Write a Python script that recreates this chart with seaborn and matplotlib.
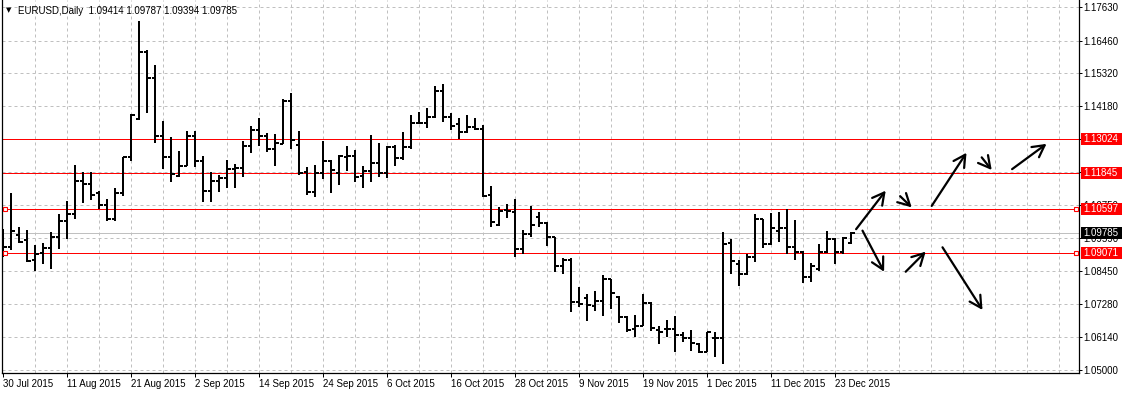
import numpy as np
import pandas as pd
import matplotlib
matplotlib.use("Agg")
import matplotlib.pyplot as plt
import matplotlib.transforms as mtransforms
from matplotlib.patches import Rectangle
import seaborn as sns

# ---------------- data ----------------
symbol_title = "EURUSD,Daily"
opens = [1.0965, 1.0929, 1.0970, 1.0952, 1.0883, 1.0907, 1.0925, 1.0963, 1.1019, 1.1043,
         1.1158, 1.1147, 1.1116, 1.1074, 1.1026, 1.1116, 1.1241, 1.1374, 1.1607, 1.1516,
         1.1314, 1.1241, 1.1175, 1.1210, 1.1314, 1.1227, 1.1123, 1.1158, 1.1168, 1.1200,
         1.1203, 1.1280, 1.1335, 1.1314, 1.1269, 1.1287, 1.1436, 1.1283, 1.1189, 1.1119,
         1.1186, 1.1227, 1.1186, 1.1241, 1.1245, 1.1175, 1.1193, 1.1220, 1.1186, 1.1277,
         1.1238, 1.1276, 1.1360, 1.1360, 1.1380, 1.1471, 1.1380, 1.1356, 1.1328, 1.1346,
         1.1339, 1.1109, 1.1005, 1.1057, 1.1050, 1.0921, 1.0973, 1.1033, 1.1012, 1.0963,
         1.0862, 1.0883, 1.0737, 1.0751, 1.0723, 1.0740, 1.0817, 1.0754, 1.0684, 1.0643,
         1.0653, 1.0733, 1.0639, 1.0643, 1.0643, 1.0622, 1.0611, 1.0591, 1.0563, 1.0611,
         1.0611, 1.0942, 1.0869, 1.0834, 1.0893, 1.1026, 1.0939, 1.0984, 1.0994, 1.0928,
         1.0911, 1.0824, 1.0852, 1.0911, 1.0956, 1.0911, 1.09414]
highs = [1.0991, 1.1117, 1.0998, 1.0987, 1.0935, 1.0942, 1.0980, 1.1043, 1.1088, 1.1213,
         1.1189, 1.1189, 1.1123, 1.1095, 1.1133, 1.1241, 1.1391, 1.1715, 1.1614, 1.1561,
         1.1367, 1.1311, 1.1262, 1.1332, 1.1332, 1.1245, 1.1189, 1.1179, 1.1231, 1.1217,
         1.1297, 1.1349, 1.1377, 1.1325, 1.1321, 1.1443, 1.1464, 1.1332, 1.1206, 1.1213,
         1.1297, 1.1231, 1.1248, 1.1280, 1.1266, 1.1210, 1.1318, 1.1290, 1.1280, 1.1283,
         1.1328, 1.1387, 1.1398, 1.1412, 1.1488, 1.1495, 1.1394, 1.1377, 1.1387, 1.1377,
         1.1353, 1.1140, 1.1067, 1.1078, 1.1095, 1.0987, 1.1071, 1.1050, 1.1015, 1.0963,
         1.0890, 1.0890, 1.0789, 1.0765, 1.0775, 1.0831, 1.0817, 1.0758, 1.0688, 1.0691,
         1.0765, 1.0737, 1.0653, 1.0674, 1.0688, 1.0632, 1.0639, 1.0594, 1.0632, 1.0632,
         1.0980, 1.0956, 1.0883, 1.0904, 1.1043, 1.1026, 1.1046, 1.1050, 1.1060, 1.1022,
         1.0914, 1.0872, 1.0939, 1.0984, 1.0959, 1.0963, 1.09787]
lows = [1.0893, 1.0918, 1.0942, 1.0876, 1.0845, 1.0869, 1.0852, 1.0921, 1.0956, 1.1026,
        1.1081, 1.1092, 1.1060, 1.1019, 1.1019, 1.1106, 1.1227, 1.1370, 1.1394, 1.1290,
        1.1200, 1.1154, 1.1172, 1.1210, 1.1206, 1.1085, 1.1085, 1.1119, 1.1133, 1.1133,
        1.1172, 1.1255, 1.1280, 1.1259, 1.1210, 1.1287, 1.1269, 1.1179, 1.1109, 1.1102,
        1.1165, 1.1116, 1.1144, 1.1193, 1.1154, 1.1133, 1.1154, 1.1172, 1.1168, 1.1210,
        1.1231, 1.1269, 1.1356, 1.1342, 1.1377, 1.1363, 1.1335, 1.1304, 1.1325, 1.1335,
        1.1102, 1.0998, 1.1001, 1.1029, 1.0893, 1.0904, 1.0963, 1.0998, 1.0932, 1.0841,
        1.0834, 1.0702, 1.0719, 1.0671, 1.0705, 1.0688, 1.0712, 1.0664, 1.0632, 1.0615,
        1.0653, 1.0636, 1.0591, 1.0615, 1.0563, 1.0597, 1.0566, 1.0559, 1.0563, 1.0545,
        1.0521, 1.0834, 1.0792, 1.0831, 1.0876, 1.0925, 1.0935, 1.0945, 1.0904, 1.0883,
        1.0803, 1.0806, 1.0845, 1.0907, 1.0869, 1.0904, 1.09394]
closes = [1.0929, 1.0984, 1.0945, 1.0879, 1.0904, 1.0925, 1.0963, 1.1019, 1.1043, 1.1158,
          1.1147, 1.1109, 1.1074, 1.1026, 1.1116, 1.1241, 1.1387, 1.1607, 1.1516, 1.1314,
          1.1241, 1.1182, 1.1210, 1.1314, 1.1227, 1.1123, 1.1158, 1.1168, 1.1200, 1.1203,
          1.1280, 1.1335, 1.1314, 1.1269, 1.1290, 1.1436, 1.1300, 1.1186, 1.1119, 1.1186,
          1.1227, 1.1196, 1.1245, 1.1245, 1.1172, 1.1193, 1.1220, 1.1186, 1.1277, 1.1238,
          1.1276, 1.1360, 1.1360, 1.1380, 1.1471, 1.1380, 1.1349, 1.1328, 1.1346, 1.1339,
          1.1106, 1.1015, 1.1053, 1.1053, 1.0921, 1.0973, 1.1005, 1.1012, 1.0963, 1.0862,
          1.0883, 1.0737, 1.0730, 1.0726, 1.0740, 1.0817, 1.0768, 1.0684, 1.0639, 1.0653,
          1.0733, 1.0646, 1.0632, 1.0643, 1.0622, 1.0611, 1.0594, 1.0563, 1.0632, 1.0611,
          1.0939, 1.0879, 1.0834, 1.0893, 1.1026, 1.0939, 1.0994, 1.0994, 1.0928, 1.0911,
          1.0824, 1.0862, 1.0911, 1.0956, 1.0911, 1.0959, 1.09785]

date_labels = ["30 Jul 2015", "11 Aug 2015", "21 Aug 2015", "2 Sep 2015", "14 Sep 2015",
               "24 Sep 2015", "6 Oct 2015", "16 Oct 2015", "28 Oct 2015", "9 Nov 2015",
               "19 Nov 2015", "1 Dec 2015", "11 Dec 2015", "23 Dec 2015"]
label_every = 8          # bars between date labels
grid_every = 4           # bars between vertical grid lines

price_ticks = [1.05000, 1.06140, 1.07280, 1.08450, 1.09590, 1.10750,
               1.11900, 1.13040, 1.14180, 1.15320, 1.16460, 1.17630]

red_levels = [1.13024, 1.11845, 1.10597, 1.09071]
marked_levels = [1.10597, 1.09071]
bid_level = 1.09785

# hand-drawn arrows (bar index, price)
arrow_x0 = [106.6, 112.1, 116.05, 122.3, 126.1, 107.4, 112.8, 117.4]
arrow_y0 = [1.0990, 1.1105, 1.1071, 1.1240, 1.1199, 1.0985, 1.0842, 1.0927]
arrow_x1 = [110.3, 113.55, 120.4, 123.55, 130.4, 110.1, 115.3, 122.4]
arrow_y1 = [1.1124, 1.1066, 1.1256, 1.1196, 1.1287, 1.0842, 1.0912, 1.0709]

# ---------------- figure ----------------
sns.set_theme(style="white")
plt.rcParams["font.family"] = ["Liberation Sans", "DejaVu Sans"]

W, H = 1122, 394
fig = plt.figure(figsize=(W / 100, H / 100), dpi=100)
fig.patch.set_facecolor("white")
ax_left, ax_right, ax_bottom_px = 2, 1079, 373
ax = fig.add_axes([ax_left / W, (H - ax_bottom_px) / H,
                   (ax_right - ax_left) / W, ax_bottom_px / H])
ax.set_facecolor("white")

n = len(opens)
tick = 0.4
rows = []
for i in range(n):
    rows += [(i, lows[i], 3 * i), (i, highs[i], 3 * i)]
    rows += [(i - tick, opens[i], 3 * i + 1), (i, opens[i], 3 * i + 1)]
    rows += [(i, closes[i], 3 * i + 2), (i + tick, closes[i], 3 * i + 2)]
seg = pd.DataFrame(rows, columns=["bar", "price", "seg"])

sns.lineplot(data=seg, x="bar", y="price", units="seg", estimator=None, sort=False,
             color="black", lw=1.44, solid_capstyle="butt", legend=False, ax=ax, zorder=4)

# limits (8 px per bar, 0.000348 per px)
px_per_bar = 8.0
first_bar_px = 3.3
ax.set_xlim((ax_left - first_bar_px) / px_per_bar, (ax_right - first_bar_px) / px_per_bar)
ax.set_ylim(1.04896, 1.17876)

# grid
for v in price_ticks:
    ax.axhline(v, color="#c0c0c0", lw=0.72, ls=(0, (3, 3)), zorder=1)
for b in range(grid_every, int(ax.get_xlim()[1]) + 1, grid_every):
    ax.axvline(b, color="#c0c0c0", lw=0.72, ls=(0, (3, 3)), zorder=1)

# levels
for v in red_levels:
    ax.axhline(v, color="#ff0000", lw=0.72, zorder=2)
ax.axhline(bid_level, color="#c0c0c0", lw=0.72, zorder=2)
trans_ax = mtransforms.blended_transform_factory(ax.transAxes, ax.transData)
for v in marked_levels:
    for xa in [(5 - ax_left) / (ax_right - ax_left), (1076 - ax_left) / (ax_right - ax_left)]:
        ax.plot([xa], [v], marker="s", ms=3.0, mfc="white", mec="#ff0000", mew=0.8,
                transform=trans_ax, clip_on=False, zorder=6)

# arrows
for x0, y0, x1, y1 in zip(arrow_x0, arrow_y0, arrow_x1, arrow_y1):
    ax.annotate("", xy=(x1, y1), xytext=(x0, y0),
                arrowprops=dict(arrowstyle="->,head_length=0.7,head_width=0.38",
                                lw=1.6, color="black", shrinkA=0, shrinkB=0),
                zorder=5)

# axes / ticks
ax.set_xlabel("")
ax.set_ylabel("")
ax.set_xticks(list(range(0, label_every * len(date_labels), label_every)))
ax.set_xticklabels(date_labels)
for lab in ax.get_xticklabels():
    lab.set_ha("left")
ax.tick_params(axis="x", direction="out", length=3, width=0.72, pad=1.5,
               labelsize=7, colors="black", bottom=True)
ax.yaxis.tick_right()
ax.set_yticks(price_ticks)
ax.set_yticklabels([f"{v:.5f}" for v in price_ticks])
ax.tick_params(axis="y", direction="out", length=2.2, width=0.72, pad=1.0,
               labelsize=7, colors="black", right=True, left=False)
for s in ["left", "bottom", "right"]:
    ax.spines[s].set_visible(True)
    ax.spines[s].set_color("black")
    ax.spines[s].set_linewidth(0.9)
ax.spines["top"].set_visible(False)

# price boxes on the right axis
trans_fig = mtransforms.blended_transform_factory(fig.transFigure, ax.transData)
half_h = 6 * 0.000348
for v, fc in [(v, "#ff0000") for v in red_levels] + [(bid_level, "black")]:
    rect = Rectangle((1080.5 / W, v - half_h), (W - 1080.5) / W, 2 * half_h,
                     transform=trans_fig, facecolor=fc, edgecolor="none", zorder=10)
    fig.add_artist(rect)
    fig.text(1083.5 / W, v, f"{v:.5f}", transform=trans_fig, color="white",
             fontsize=7, va="center", ha="left", zorder=11)

# header text
fig.text(8.5 / W, 1 - 10 / H, "\u25bc", fontsize=5, ha="center", va="center",
         family=["DejaVu Sans"], color="black")
fig.text(18 / W, 1 - 11 / H,
         f"{symbol_title}  {opens[-1]:.5f} {highs[-1]:.5f} {lows[-1]:.5f} {closes[-1]:.5f}",
         fontsize=7, ha="left", va="center", color="black")

fig.savefig("out.png", dpi=100, facecolor="white")
